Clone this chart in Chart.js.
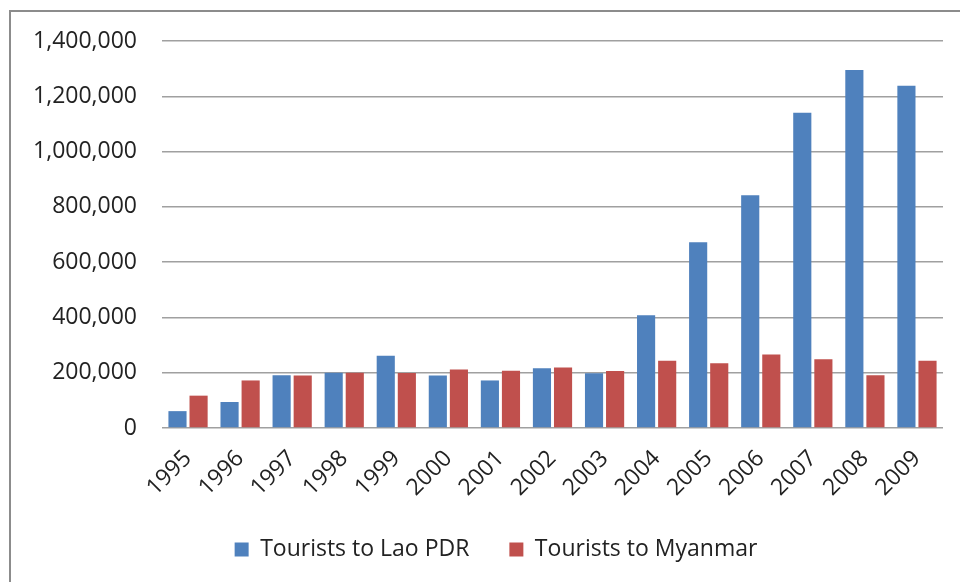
<!DOCTYPE html>
<html>
<head>
<meta charset="utf-8">
<script src="https://cdn.jsdelivr.net/npm/chart.js@4/dist/chart.umd.min.js"></script>
<style>
html, body { margin: 0; padding: 0; background: #fff; }
#wrap { position: relative; width: 960px; height: 582px; overflow: hidden; }
#frame { position: absolute; left: 9px; top: 10px; width: 1000px; height: 1000px;
  border-left: 2px solid #8c8c8c; border-top: 2px solid #8c8c8c; }
canvas { position: absolute; left: 0; top: 0; }
</style>
</head>
<body>
<div id="wrap">
  <div id="frame"></div>
  <canvas id="chart" width="960" height="582"></canvas>
</div>
<script>
const years = ['1995', '1996', '1997', '1998', '1999', '2000', '2001', '2002',
    '2003', '2004', '2005', '2006', '2007', '2008', '2009']
const laoTourists = [61000, 94000, 191000, 200000, 261000, 190000, 172000, 216000,
    198000, 408000, 672000, 842000, 1140000, 1295000, 1238000]
const myanmarTourists = [117000, 172000, 190000, 200000, 199000, 212000, 207000, 219000,
    206000, 243000, 234000, 266000, 249000, 191000, 243000]
const yTicks = [0, 200000, 400000, 600000, 800000, 1000000, 1200000, 1400000]

const textColor = '#222'
const fontFamily = '"Open Sans", "Liberation Sans", sans-serif'

new Chart(document.getElementById('chart').getContext('2d'), {
    type: 'bar',
    data: {
        labels: years,
        datasets: [{
            label: 'Tourists to Lao PDR',
            data: laoTourists,
            backgroundColor: '#4f81bd'
        }, {
            label: 'Tourists to Myanmar',
            data: myanmarTourists,
            backgroundColor: '#c0504d'
        }]
    },
    options: {
        responsive: false,
        animation: false,
        events: [],
        categoryPercentage: 0.81,
        barPercentage: 0.86,
        layout: {
            padding: { left: 32, top: 41, right: 0, bottom: 11 }
        },
        scales: {
            x: {
                grid: { display: false },
                border: { display: false },
                ticks: {
                    color: textColor,
                    font: { family: fontFamily, size: 23 },
                    minRotation: 45,
                    maxRotation: 45,
                    padding: 9
                },
                afterFit: function (scale) { scale.height = 70 }
            },
            y: {
                min: 0,
                max: yTicks[yTicks.length - 1],
                afterBuildTicks: function (scale) {
                    scale.ticks = yTicks.map(v => ({ value: v }))
                },
                grid: { color: '#a0a0a0', lineWidth: 1.5, drawTicks: false },
                border: { display: false },
                ticks: {
                    color: textColor,
                    font: { family: fontFamily, size: 23 },
                    padding: 25,
                    callback: v => v.toLocaleString('en-US')
                },
                afterFit: function (scale) { scale.width = 130 }
            },
            // empty right-hand axis: keeps the plot's right margin while the
            // legend stays centred over the whole width, as in the original
            spacer: {
                type: 'linear',
                position: 'right',
                grid: { display: false },
                border: { display: false },
                ticks: { display: false },
                afterFit: function (scale) { scale.width = 17 }
            }
        },
        plugins: {
            legend: {
                position: 'bottom',
                labels: {
                    color: textColor,
                    font: { family: fontFamily, size: 23 },
                    boxWidth: 14,
                    boxHeight: 14,
                    padding: 40
                }
            },
            tooltip: { enabled: false }
        }
    }
})
</script>
</body>
</html>
